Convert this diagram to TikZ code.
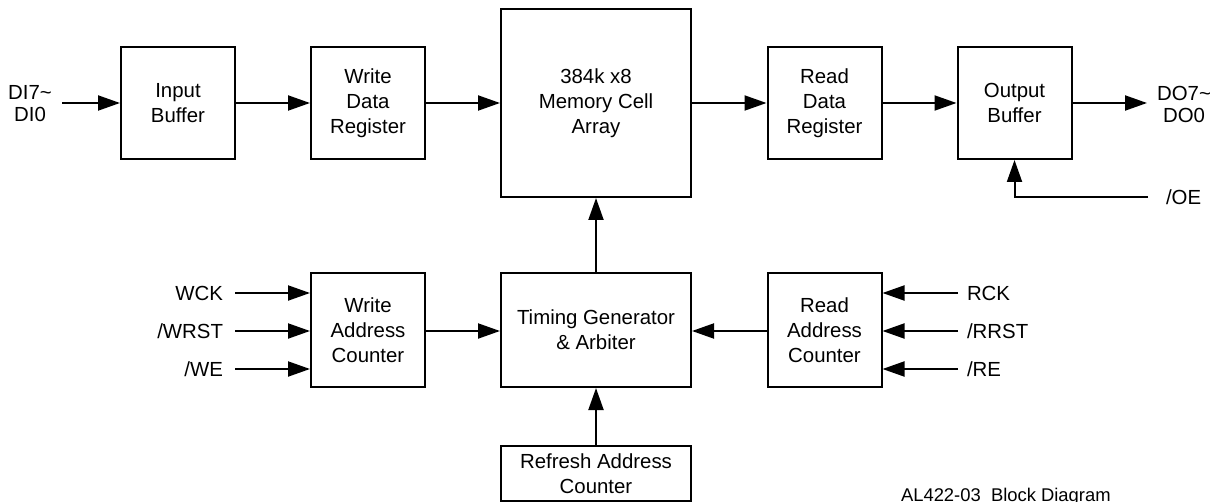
\documentclass[tikz,border=0pt]{standalone}
\usepackage{fontspec}
\setmainfont{Liberation Sans}
\usetikzlibrary{arrows.meta}
\tikzset{
  block/.style={draw, line width=1pt, inner sep=0pt, align=center, minimum width=57pt, minimum height=57pt, font=\fontsize{10.2}{12.5}\selectfont},
  wide/.style={minimum width=95pt},
  pin/.style={inner sep=0pt, align=center, font=\fontsize{10.2}{11}\selectfont},
}
\begin{document}
\begin{tikzpicture} [x=0.5pt, y=-0.5pt, >={Triangle[length=11pt,width=7.5pt]}, line width=1pt]
		\useasboundingbox (0,0) rectangle (1219,502);
		% data path
		\node[block, minimum height=56pt] (inbuf) at (178,103) {Input\\Buffer};
		\node[block, minimum height=56pt] (wdr) at (368,103) {Write\\Data\\Register};
		\node[block, wide, minimum height=94pt] (mem) at (596,103) {384k x8\\Memory Cell\\Array};
		\node[block, minimum height=56pt] (rdr) at (824.5,103) {Read\\Data\\Register};
		\node[block, minimum height=56pt] (outbuf) at (1014.5,103) {Output\\Buffer};
		% control path
		\node[block] (wac) at (368,330) {Write\\Address\\Counter};
		\node[block, wide] (tga) at (596,330) {Timing Generator\\\& Arbiter};
		\node[block] (rac) at (824.5,330) {Read\\Address\\Counter};
		\node[block, wide, minimum height=27.5pt] (rfc) at (596,473.5) {Refresh Address\\Counter};
		% pins
		\node[pin] (di) at (30,104) {DI7\textasciitilde\\DI0};
		\node[pin] (do) at (1184,104) {DO7\textasciitilde\\DO0};
		\node[pin, anchor=west] (oe) at (1165,197) {/OE};
		\node[pin, anchor=east] (wck) at (224,293) {WCK};
		\node[pin, anchor=east] (wrst) at (224,331) {/WRST};
		\node[pin, anchor=east] (we) at (224,369) {/WE};
		\node[pin, anchor=west] (rck) at (966,293) {RCK};
		\node[pin, anchor=west] (rrst) at (966,331) {/RRST};
		\node[pin, anchor=west] (re) at (966,369) {/RE};
		\node[anchor=base west, inner sep=0pt, font=\fontsize{9.2}{11}\selectfont] (title) at (900,501) {AL422-03\ \ Block Diagram};
		\coordinate (diend) at (62,103);
		\coordinate (doend) at (1147,103);
		\coordinate (oeend) at (1148,197);
		% connectors
		\draw[->] (diend) -- (inbuf.west |- diend);
		\draw[->] (inbuf.east |- diend) -- (wdr.west |- diend);
		\draw[->] (wdr.east |- diend) -- (mem.west |- diend);
		\draw[->] (mem.east |- diend) -- (rdr.west |- diend);
		\draw[->] (rdr.east |- diend) -- (outbuf.west |- diend);
		\draw[->] (outbuf.east |- diend) -- (doend);
		\draw[->] (oeend) -| (outbuf.south);
		\draw[->] ([xshift=5.5pt]wck.east) -- (wac.west |- wck);
		\draw[->] ([xshift=5.5pt]wrst.east) -- (wac.west |- wrst);
		\draw[->] ([xshift=5.5pt]we.east) -- (wac.west |- we);
		\draw[->] ([xshift=-4pt]rck.west) -- (rac.east |- rck);
		\draw[->] ([xshift=-4pt]rrst.west) -- (rac.east |- rrst);
		\draw[->] ([xshift=-4pt]re.west) -- (rac.east |- re);
		\draw[->] (wac.east |- wrst) -- (tga.west |- wrst);
		\draw[->] (rac.west |- rrst) -- (tga.east |- rrst);
		\draw[->] (tga.north) -- (mem.south);
		\draw[->] (rfc.north) -- (tga.south);
		\end{tikzpicture}
\end{document}
